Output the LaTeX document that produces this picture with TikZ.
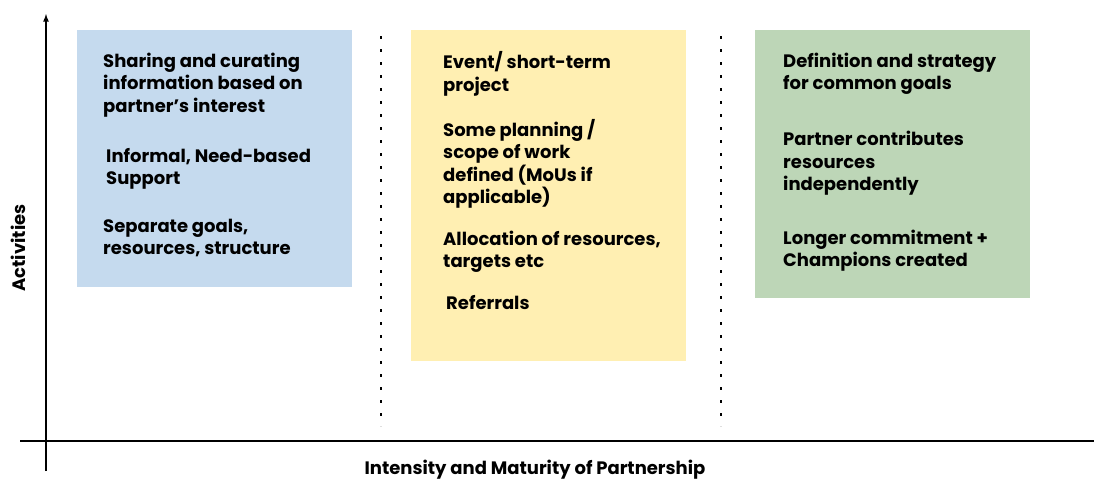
\documentclass[tikz,border=0pt]{standalone}
\usepackage{fontspec}
\setmainfont{Poppins}
\usepackage{tikz}
\definecolor{boxblue}{RGB}{197,218,238}
\definecolor{boxyellow}{RGB}{255,239,178}
\definecolor{boxgreen}{RGB}{189,214,183}
\tikzset{%
  stage/.style    = {shape=rectangle, anchor=north west, inner sep=0pt},%
  item/.style     = {anchor=west, align=left, inner sep=0pt,%
                     font=\bfseries\fontsize{18}{22.5}\selectfont},%
  axislabel/.style = {font=\bfseries\fontsize{18}{20}\selectfont, inner sep=0pt},%
  divider/.style  = {line width=2.8pt, dash pattern=on 2.8pt off 10.2pt}%
}
\begin{document}
\begin{tikzpicture}[x=1pt,y=-1pt]
	\useasboundingbox (0,0) rectangle (1094,482);
	% stages
	\node [stage,fill=boxblue,minimum width=275pt,minimum height=257pt] (share) at (77,30) {};
	\node [stage,fill=boxyellow,minimum width=275pt,minimum height=331pt] (event) at (411,30) {};
	\node [stage,fill=boxgreen,minimum width=275pt,minimum height=268pt] (common) at (755,30) {};
	% dividers
	\coordinate (d1top) at (381,36);
	\coordinate (d1bot) at (381,426);
	\coordinate (d2top) at (721,36);
	\coordinate (d2bot) at (721,426);
	\draw [divider] (d1top) -- (d1bot);
	\draw [divider] (d2top) -- (d2bot);
	% first stage
	\node [item] (s1) at (103,85) {Sharing and curating\\information based on\\partner’s interest};
	\node [item] (s2) at (106,169) {Informal, Need-based\\Support};
	\node [item] (s3) at (103,238) {Separate goals,\\resources, structure};
	% second stage
	\node [item] (e1) at (443,74) {Event/ short-term\\project};
	\node [item] (e2) at (443,164) {Some planning /\\scope of work\\defined (MoUs if\\applicable)};
	\node [item] (e3) at (443,252) {Allocation of resources,\\targets etc};
	\node [item] (e4) at (446,303) {Referrals};
	% third stage
	\node [item] (c1) at (783,74) {Definition and strategy\\for common goals};
	\node [item] (c2) at (783,163.5) {Partner contributes\\resources\\independently};
	\node [item] (c3) at (783,250.5) {Longer commitment +\\Champions created};
	% axes
	\coordinate (yfoot) at (46,471);
	\coordinate (ytip) at (46,14);
	\coordinate (xleft) at (20,441);
	\coordinate (xright) at (1094,441);
	\draw [line width=1.6pt,-latex] (yfoot) -- (ytip);
	\draw [line width=2pt] (xleft) -- (xright);
	\node [axislabel,rotate=90] (act) at (18,248) {Activities};
	\node [axislabel] (intens) at (535,470) {Intensity and Maturity of Partnership};
\end{tikzpicture}
\end{document}
